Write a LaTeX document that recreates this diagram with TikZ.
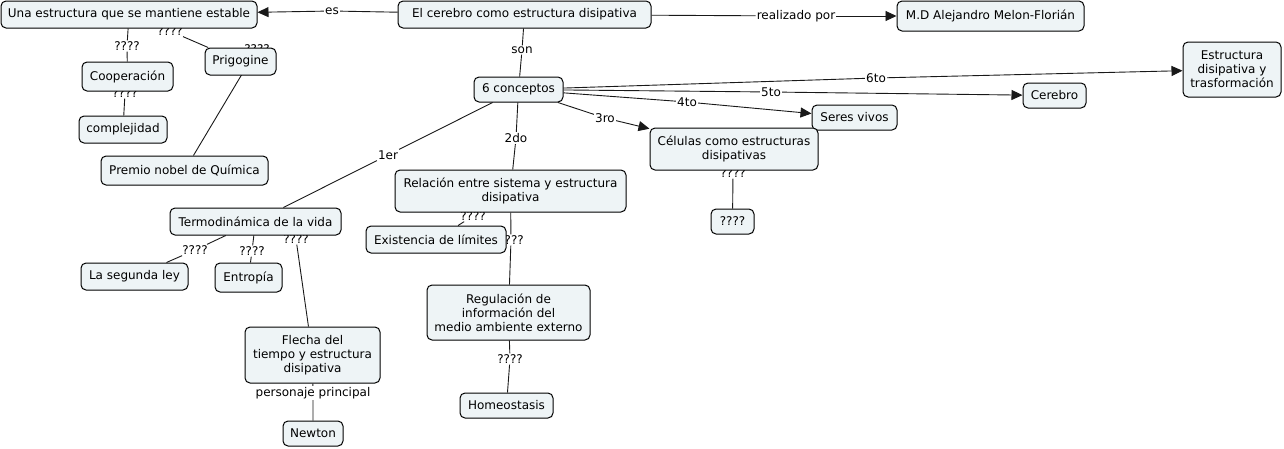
\documentclass[tikz,border=0pt]{standalone}
\usepackage{fontspec}
\setmainfont{DejaVu Sans}
\usetikzlibrary{arrows.meta}
\definecolor{conceptFill}{RGB}{238,244,246}
\definecolor{lineCol}{RGB}{25,25,25}
\pgfdeclarelayer{background}
\pgfdeclarelayer{foreground}
\pgfsetlayers{background,main,foreground}

\begin{document}
\begin{tikzpicture}[
    x=1pt, y=-1pt,
    font=\fontsize{12}{14}\selectfont,
    conceptBox/.style={draw=black, line width=1pt, fill=conceptFill,
        rounded corners=5pt, align=center, inner sep=1pt},
    linkLabel/.style={fill=white, inner sep=1pt},
    linkLine/.style={draw=lineCol, line width=0.9pt},
    linkArrow/.style={linkLine, -{Triangle[length=11pt,width=10pt]}}
]

    \useasboundingbox (0,0) rectangle (1284,448);

    % ---------------- concepts ----------------
    \begin{pgfonlayer}{foreground}
    \node[conceptBox, minimum width=256, minimum height=27] (estable) at (129,14.5)
        {Una estructura que se mantiene estable};
    \node[conceptBox, minimum width=253, minimum height=27] (cerebro) at (524.5,14.5)
        {El cerebro como estructura disipativa};
    \node[conceptBox, minimum width=187, minimum height=30] (autor) at (990.5,16)
        {M.D Alejandro Melon-Florián};
    \node[conceptBox, minimum width=98, minimum height=55] (estructura) at (1232,69.5)
        {Estructura\\disipativa y\\trasformación};
    \node[conceptBox, minimum width=89, minimum height=25] (conceptos) at (518.5,89.5)
        {6 conceptos};
    \node[conceptBox, minimum width=63, minimum height=25] (cerebroN) at (1054.5,95.5)
        {Cerebro};
    \node[conceptBox, minimum width=85, minimum height=25] (seres) at (854.5,117.5)
        {Seres vivos};
    \node[conceptBox, minimum width=168, minimum height=42] (celulas) at (734,149)
        {Células como estructuras\\disipativas};
    \node[conceptBox, minimum width=43, minimum height=25] (incognita) at (732.5,221.5)
        {????};
    \node[conceptBox, minimum width=91, minimum height=29] (cooperacion) at (127.5,76.5)
        {Cooperación};
    \node[conceptBox, minimum width=71, minimum height=27] (prigogine) at (240.5,61.5)
        {Prigogine};
    \node[conceptBox, minimum width=88, minimum height=27] (complejidad) at (123,129.5)
        {complejidad};
    \node[conceptBox, minimum width=167, minimum height=29] (premio) at (184.5,170.5)
        {Premio nobel de Química};
    \node[conceptBox, minimum width=171, minimum height=27] (termo) at (255.5,221.5)
        {Termodinámica de la vida};
    \node[conceptBox, minimum width=231, minimum height=42] (relacion) at (510.5,191)
        {Relación entre sistema y estructura\\disipativa};
    \node[conceptBox, minimum width=140, minimum height=27] (limites) at (436,239.5)
        {Existencia de límites};
    \node[conceptBox, minimum width=107, minimum height=27] (segunda) at (134.5,276.5)
        {La segunda ley};
    \node[conceptBox, minimum width=67, minimum height=29] (entropia) at (248.5,277.5)
        {Entropía};
    \node[conceptBox, minimum width=163, minimum height=55] (regulacion) at (508.5,312.5)
        {Regulación de\\información del\\medio ambiente externo};
    \node[conceptBox, minimum width=135, minimum height=56] (flecha) at (312.5,355)
        {Flecha del\\tiempo y estructura\\disipativa};
    \node[conceptBox, minimum width=93, minimum height=25] (homeostasis) at (506.5,405.5)
        {Homeostasis};
    \node[conceptBox, minimum width=60, minimum height=25] (newton) at (313,433.5)
        {Newton};
    \end{pgfonlayer}

    % ---------------- linking phrases ----------------
    \node[linkLabel] (es) at (332,11) {es};
    \node[linkLabel] (realizado) at (796,16) {realizado por};
    \node[linkLabel] (son) at (522,50) {son};
    \node[linkLabel] (sexto) at (876,78) {6to};
    \node[linkLabel] (quinto) at (771,92) {5to};
    \node[linkLabel] (cuarto) at (687,102) {4to};
    \node[linkLabel] (tercero) at (605,118) {3ro};
    \node[linkLabel] (segundo) at (516,138) {2do};
    \node[linkLabel] (primero) at (388,155) {1er};
    \node[linkLabel] (qCoop) at (127,46) {????};
    \node[linkLabel] (qPrig) at (170,31) {????};
    \node[linkLabel] (qPremio) at (257,49) {????};
    \node[linkLabel] (qComp) at (125,93) {????};
    \node[linkLabel] (qSegunda) at (195,250) {????};
    \node[linkLabel] (qEntropia) at (252,251) {????};
    \node[linkLabel] (qFlecha) at (296,239) {????};
    \node[linkLabel] (personaje) at (313,393) {personaje principal};
    \node[linkLabel] (qLimites) at (473,216) {????};
    \node[linkLabel] (qRegul) at (511,240) {????};
    \node[linkLabel] (qHomeo) at (510,359) {????};
    \node[linkLabel] (qCelulas) at (733,173) {????};

    % ---------------- connectors ----------------
    \begin{pgfonlayer}{background}
    \fill[white] (0,0) rectangle (1284,448);

    \draw[linkLine] (cerebro) -- (es);
    \draw[linkArrow] (es) -- (estable);
    \draw[linkLine] (cerebro) -- (realizado);
    \draw[linkArrow] (realizado) -- (autor);
    \draw[linkLine] (cerebro) -- (son) -- (conceptos);

    \draw[linkLine] (conceptos) -- (sexto);
    \draw[linkArrow] (sexto) -- (estructura);
    \draw[linkLine] (conceptos) -- (quinto);
    \draw[linkArrow] (quinto) -- (cerebroN);
    \draw[linkLine] (conceptos) -- (cuarto);
    \draw[linkArrow] (cuarto) -- (seres);
    \draw[linkLine] (conceptos) -- (tercero);
    \draw[linkArrow] (tercero) -- (celulas);
    \draw[linkLine] (conceptos) -- (segundo) -- (relacion);
    \draw[linkLine] (conceptos) -- (primero) -- (termo);

    \draw[linkLine] (estable) -- (qCoop) -- (cooperacion);
    \draw[linkLine] (estable) -- (qPrig) -- (prigogine);
    \draw[linkLine] (prigogine) -- (qPremio) -- (premio);
    \draw[linkLine] (cooperacion) -- (qComp) -- (complejidad);

    \draw[linkLine] (termo) -- (qSegunda) -- (segunda);
    \draw[linkLine] (termo) -- (qEntropia) -- (entropia);
    \draw[linkLine] (termo) -- (qFlecha) -- (flecha);
    \draw[linkLine] (flecha) -- (personaje) -- (newton);

    \draw[linkLine] (relacion) -- (qLimites) -- (limites);
    \draw[linkLine] (relacion) -- (qRegul) -- (regulacion);
    \draw[linkLine] (regulacion) -- (qHomeo) -- (homeostasis);
    \draw[linkLine] (celulas) -- (qCelulas) -- (incognita);
    \end{pgfonlayer}

\end{tikzpicture}
\end{document}
